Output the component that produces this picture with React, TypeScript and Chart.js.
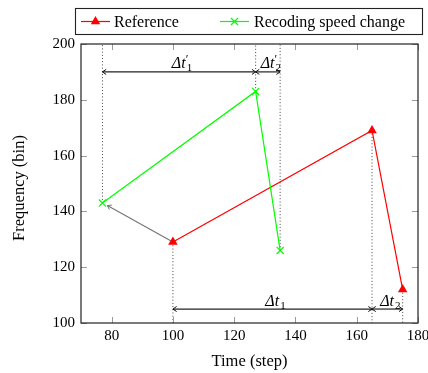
import { useEffect, useRef } from 'react';
import { Chart, registerables } from 'chart.js';

Chart.register(...registerables);

// ---- data ----
const refSteps = [100, 165, 175];
const refFreq = [129, 169, 112];
const recSteps = [77, 127, 135];
const recFreq = [143, 183, 126];
const linkSteps = [100, 78.6];
const linkFreq = [129, 142.1];
const xTicks = [80, 100, 120, 140, 160, 180];
const yTicks = [100, 120, 140, 160, 180, 200];
const X_MIN = 70;
const X_MAX = 180;
const Y_MIN = 100;
const Y_MAX = 200;
const primeLevel = 190;
const primeBounds = [77, 127, 135];
const primeSubs = ['1', '2'];
const baseLevel = 105;
const baseBounds = [100, 165, 175];
const baseSubs = ['1', '2'];
const legendLabels = ['Reference', 'Recoding speed change'];
const xTitle = 'Time (step)';
const yTitle = 'Frequency (bin)';

const SERIF = '"Liberation Serif", "Times New Roman", serif';
const RED = '#ff0000';
const GREEN = '#00ff00';

function drawTriangle(ctx: CanvasRenderingContext2D, cx: number, cy: number, r: number, color: string) {
  ctx.beginPath();
  for (let k = 0; k < 3; k++) {
    const a = -Math.PI / 2 + (k * 2 * Math.PI) / 3;
    const px = cx + Math.cos(a) * r;
    const py = cy + Math.sin(a) * r;
    if (k === 0) ctx.moveTo(px, py);
    else ctx.lineTo(px, py);
  }
  ctx.closePath();
  ctx.fillStyle = color;
  ctx.fill();
}

function drawCross(ctx: CanvasRenderingContext2D, cx: number, cy: number, r: number, color: string) {
  const d = r * 0.7071;
  ctx.beginPath();
  ctx.moveTo(cx - d, cy - d);
  ctx.lineTo(cx + d, cy + d);
  ctx.moveTo(cx - d, cy + d);
  ctx.lineTo(cx + d, cy - d);
  ctx.strokeStyle = color;
  ctx.lineWidth = 1.2;
  ctx.stroke();
}

function arrowHead(ctx: CanvasRenderingContext2D, tx: number, ty: number, angle: number, color: string) {
  const len = 4.5;
  const spread = 0.6;
  ctx.beginPath();
  ctx.moveTo(tx - len * Math.cos(angle - spread), ty - len * Math.sin(angle - spread));
  ctx.lineTo(tx, ty);
  ctx.lineTo(tx - len * Math.cos(angle + spread), ty - len * Math.sin(angle + spread));
  ctx.strokeStyle = color;
  ctx.lineWidth = 1;
  ctx.stroke();
}

function drawDelta(ctx: CanvasRenderingContext2D, cx: number, baseY: number, sub: string, prime: boolean) {
  ctx.fillStyle = '#000';
  ctx.textBaseline = 'alphabetic';
  ctx.textAlign = 'left';
  const mainFont = `italic 16px ${SERIF}`;
  const subFont = `11px ${SERIF}`;
  ctx.font = mainFont;
  const w1 = ctx.measureText('Δt').width;
  ctx.font = subFont;
  const w2 = ctx.measureText(sub).width;
  const total = w1 + w2 + 1;
  const sx = cx - total / 2;
  ctx.font = mainFont;
  ctx.fillText('Δt', sx, baseY);
  if (prime) {
    ctx.font = `12px ${SERIF}`;
    ctx.fillText('′', sx + w1, baseY - 5);
  }
  ctx.font = subFont;
  ctx.fillText(sub, sx + w1 + 1, baseY + 3);
}

const annotPlugin = {
  id: 'annot',
  afterDraw(chart: any) {
    const { ctx, chartArea: a, scales } = chart;
    const xs = scales.x;
    const ys = scales.y;
    ctx.save();

    // inward ticks on all sides
    ctx.strokeStyle = '#9a9a9a';
    ctx.lineWidth = 1;
    ctx.beginPath();
    xTicks.forEach((v) => {
      const px = Math.round(xs.getPixelForValue(v)) + 0.5;
      ctx.moveTo(px, a.bottom);
      ctx.lineTo(px, a.bottom - 6);
      ctx.moveTo(px, a.top);
      ctx.lineTo(px, a.top + 6);
    });
    yTicks.forEach((v) => {
      const py = Math.round(ys.getPixelForValue(v)) + 0.5;
      ctx.moveTo(a.left, py);
      ctx.lineTo(a.left + 6, py);
      ctx.moveTo(a.right, py);
      ctx.lineTo(a.right - 6, py);
    });
    ctx.stroke();

    // frame
    ctx.strokeStyle = '#222';
    ctx.lineWidth = 1.2;
    ctx.strokeRect(a.left, a.top, a.right - a.left, a.bottom - a.top);

    // interval arrowheads
    const heads = (bounds: number[], level: number) => {
      const py = ys.getPixelForValue(level);
      for (let i = 0; i < bounds.length - 1; i++) {
        const p0 = xs.getPixelForValue(bounds[i]);
        const p1 = xs.getPixelForValue(bounds[i + 1]);
        arrowHead(ctx, p0, py, Math.PI, '#111');
        arrowHead(ctx, p1, py, 0, '#111');
      }
    };
    heads(primeBounds, primeLevel);
    heads(baseBounds, baseLevel);

    // gray link arrowhead
    {
      const x0 = xs.getPixelForValue(linkSteps[0]);
      const y0 = ys.getPixelForValue(linkFreq[0]);
      const x1 = xs.getPixelForValue(linkSteps[1]);
      const y1 = ys.getPixelForValue(linkFreq[1]);
      arrowHead(ctx, x1, y1, Math.atan2(y1 - y0, x1 - x0), '#777');
    }

    // delta labels
    const labels = (bounds: number[], level: number, subs: string[], prime: boolean) => {
      const py = ys.getPixelForValue(level);
      for (let i = 0; i < bounds.length - 1; i++) {
        const mid = (xs.getPixelForValue(bounds[i]) + xs.getPixelForValue(bounds[i + 1])) / 2;
        drawDelta(ctx, mid + 3, py - 3.5, subs[i], prime);
      }
    };
    labels(primeBounds, primeLevel, primeSubs, true);
    labels(baseBounds, baseLevel, baseSubs, false);

    // legend
    ctx.strokeStyle = '#222';
    ctx.lineWidth = 1.1;
    ctx.strokeRect(75.5, 8.5, 347, 26);
    const ly = 21.5;
    ctx.beginPath();
    ctx.moveTo(81, ly);
    ctx.lineTo(110, ly);
    ctx.strokeStyle = RED;
    ctx.lineWidth = 1.2;
    ctx.stroke();
    drawTriangle(ctx, 95.5, ly, 5.5, RED);
    ctx.beginPath();
    ctx.moveTo(220, ly);
    ctx.lineTo(249, ly);
    ctx.strokeStyle = GREEN;
    ctx.lineWidth = 1.2;
    ctx.stroke();
    drawCross(ctx, 234.5, ly, 5, GREEN);
    ctx.fillStyle = '#000';
    ctx.font = `16px ${SERIF}`;
    ctx.textBaseline = 'middle';
    ctx.textAlign = 'left';
    ctx.fillText(legendLabels[0], 114, ly + 1);
    ctx.fillText(legendLabels[1], 254, ly + 1);

    // axis titles
    ctx.font = `16.5px ${SERIF}`;
    ctx.textAlign = 'center';
    ctx.textBaseline = 'middle';
    ctx.fillText(xTitle, (a.left + a.right) / 2, 362);
    ctx.save();
    ctx.translate(20, 188);
    ctx.rotate(-Math.PI / 2);
    ctx.fillText(yTitle, 0, 0);
    ctx.restore();

    ctx.restore();
  },
};

export default function App() {
  const ref = useRef<HTMLCanvasElement>(null);
  useEffect(() => {
    if (!ref.current) return;
    const pts = (xsArr: number[], ysArr: number[]) => xsArr.map((x, i) => ({ x, y: ysArr[i] }));
    const dotStyle = {
      borderColor: '#444',
      borderWidth: 1,
      borderDash: [1, 2.2],
      pointRadius: 0,
      fill: false,
    };
    const guideSets: any[] = [];
    recSteps.forEach((s, i) => {
      guideSets.push({ data: [{ x: s, y: recFreq[i] }, { x: s, y: Y_MAX }], ...dotStyle });
    });
    refSteps.forEach((s, i) => {
      guideSets.push({ data: [{ x: s, y: refFreq[i] }, { x: s, y: Y_MIN }], ...dotStyle });
    });
    const arrowStyle = { borderColor: '#222', borderWidth: 1.2, pointRadius: 0, fill: false };
    for (let i = 0; i < primeBounds.length - 1; i++) {
      guideSets.push({ data: [{ x: primeBounds[i], y: primeLevel }, { x: primeBounds[i + 1], y: primeLevel }], ...arrowStyle });
    }
    for (let i = 0; i < baseBounds.length - 1; i++) {
      guideSets.push({ data: [{ x: baseBounds[i], y: baseLevel }, { x: baseBounds[i + 1], y: baseLevel }], ...arrowStyle });
    }

    const chart = new Chart(ref.current, {
      type: 'line',
      data: {
        datasets: [
          {
            label: legendLabels[1],
            data: pts(recSteps, recFreq),
            borderColor: GREEN,
            backgroundColor: GREEN,
            borderWidth: 1.2,
            pointStyle: 'crossRot',
            pointRadius: 5,
            pointBorderWidth: 1.2,
            pointBorderColor: GREEN,
            fill: false,
          },
          {
            label: legendLabels[0],
            data: pts(refSteps, refFreq),
            borderColor: RED,
            backgroundColor: RED,
            borderWidth: 1.2,
            pointStyle: 'triangle',
            pointRadius: 5.5,
            pointBorderWidth: 0,
            pointBackgroundColor: RED,
            fill: false,
          },
          {
            data: pts(linkSteps, linkFreq),
            borderColor: '#777',
            borderWidth: 1.2,
            pointRadius: 0,
            fill: false,
          },
          ...guideSets,
        ] as any,
      },
      options: {
        responsive: true,
        maintainAspectRatio: false,
        animation: false,
        layout: { padding: { top: 44, right: 10, left: 0, bottom: 0 } },
        plugins: { legend: { display: false }, tooltip: { enabled: false }, title: { display: false } },
        elements: { line: { tension: 0 } },
        scales: {
          x: {
            type: 'linear',
            min: X_MIN,
            max: X_MAX,
            grid: { display: false, drawTicks: false },
            border: { display: false },
            afterBuildTicks: (s: any) => {
              s.ticks = xTicks.map((v) => ({ value: v }));
            },
            afterFit: (s: any) => {
              s.height = 50;
              s.paddingLeft = 0;
              s.paddingRight = 0;
            },
            ticks: {
              font: { family: SERIF, size: 15 },
              color: '#000',
              padding: 4,
              maxRotation: 0,
              autoSkip: false,
            },
          },
          y: {
            type: 'linear',
            min: Y_MIN,
            max: Y_MAX,
            grid: { display: false, drawTicks: false },
            border: { display: false },
            afterBuildTicks: (s: any) => {
              s.ticks = yTicks.map((v) => ({ value: v }));
            },
            afterFit: (s: any) => {
              s.width = 81;
              s.paddingTop = 0;
              s.paddingBottom = 0;
            },
            ticks: {
              font: { family: SERIF, size: 15 },
              color: '#000',
              padding: 6,
              autoSkip: false,
            },
          },
        },
      } as any,
      plugins: [annotPlugin],
    });
    return () => chart.destroy();
  }, []);

  return (
    <div style={{ position: 'fixed', left: 0, top: 0, width: 428, height: 373 }}>
      <canvas ref={ref} />
    </div>
  );
}
